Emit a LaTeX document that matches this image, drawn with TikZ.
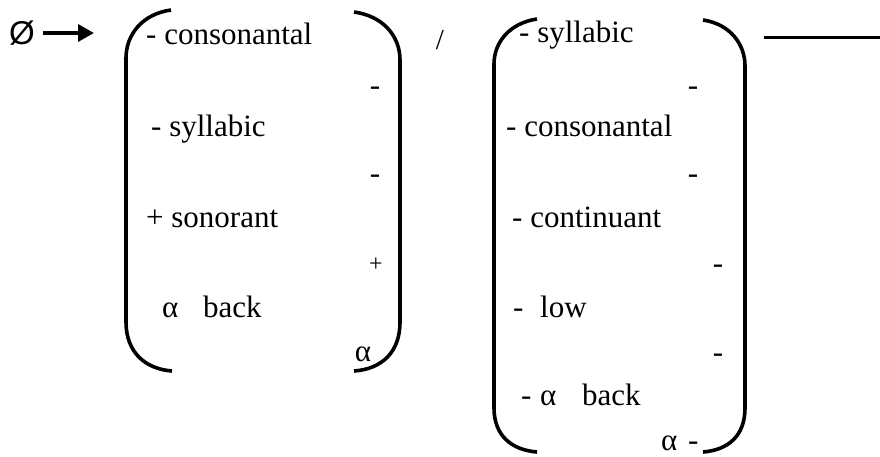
\documentclass[tikz,border=0pt]{standalone}
\usepackage{fontspec}
\setmainfont{Liberation Serif}
\newfontfamily\symfont{Liberation Sans}
\usetikzlibrary{arrows.meta}
\begin{document}
\begin{tikzpicture}[x=1pt,y=-1pt,
  lbl/.style={inner sep=0pt,anchor=base west,font=\fontsize{31}{36}\selectfont},
  sgn/.style={inner sep=0pt,anchor=base,font=\fontsize{31}{36}\selectfont},
  brk/.style={line width=3.6pt,line cap=butt},
  conn/.style={line width=3.5pt}]
\useasboundingbox (0,0) rectangle (880,457);
% left side
\node[inner sep=0pt,anchor=center,font=\symfont\fontsize{33}{36}\selectfont] (zero) at (22,33) {Ø};
\coordinate (arS) at (43,33);
\coordinate (arE) at (94,33);
\draw[conn,-{Triangle[length=16pt,width=17pt]}] (arS) -- (arE);
% bracket 1
\draw[brk] (171,10) .. controls (142,14) and (126,35) .. (126,58) -- (126,322)
  .. controls (126,352) and (145,369) .. (172,371);
\draw[brk] (354,12) .. controls (383,16) and (400,36) .. (400,60) -- (400,322)
  .. controls (400,352) and (382,369) .. (354,371);
\node[lbl] (a1) at (146,45) {- consonantal};
\node[lbl] (a2) at (151,137) {- syllabic};
\node[lbl] (a3) at (146,227) {+ sonorant};
\node[lbl] (a4a) at (162,317) {α};
\node[lbl] (a4b) at (203,317) {back};
\node[sgn] (s1) at (375,96) {-};
\node[sgn] (s2) at (375,183) {-};
\node[sgn,font=\fontsize{24}{26}\selectfont] (s3) at (376,271) {+};
\node[sgn] (s4) at (363,361) {α};
% slash
\node[sgn,font=\fontsize{29}{30}\selectfont] (slash) at (440,50) {/};
% bracket 2
\draw[brk] (537,19) .. controls (510,23) and (494,42) .. (494,64) -- (494,408)
  .. controls (494,436) and (512,450) .. (537,452);
\draw[brk] (703,20) .. controls (730,24) and (745,44) .. (745,66) -- (745,408)
  .. controls (745,436) and (728,450) .. (703,452);
\node[lbl] (b1) at (519,43) {- syllabic};
\node[lbl] (b2) at (506,137) {- consonantal};
\node[lbl] (b3) at (512,227) {- continuant};
\node[lbl] (b4a) at (513,317) {-};
\node[lbl] (b4b) at (540,317) {low};
\node[lbl] (b5a) at (521,405) {-};
\node[lbl] (b5b) at (540,405) {α};
\node[lbl] (b5c) at (582,405) {back};
\node[sgn] (t1) at (693,96) {-};
\node[sgn] (t2) at (693,183) {-};
\node[sgn] (t3) at (718,273) {-};
\node[sgn] (t4) at (718,362) {-};
\node[lbl] (t5a) at (661,450) {α};
\node[lbl] (t5b) at (688,450) {-};
% blank line
\coordinate (lnS) at (764,38);
\coordinate (lnE) at (880,38);
\draw[line width=3pt] (lnS) -- (lnE);
\end{tikzpicture}
\end{document}
